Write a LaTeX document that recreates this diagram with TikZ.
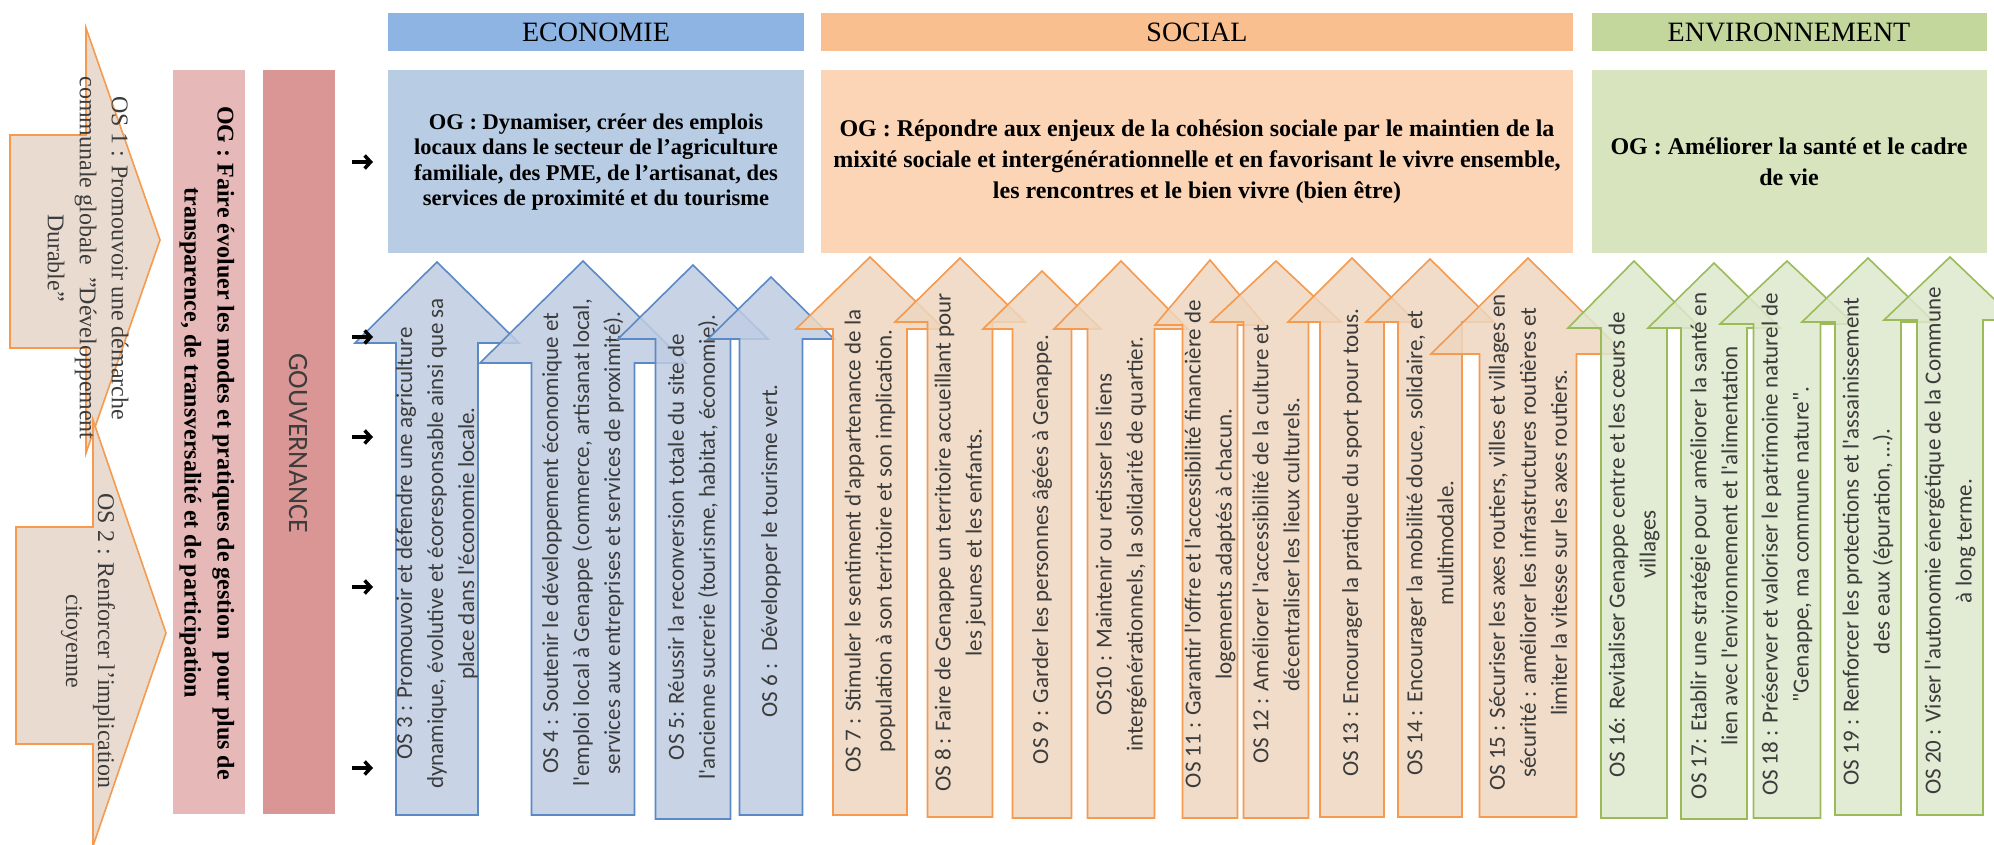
\documentclass[tikz,border=0pt]{standalone}
\usepackage{fontspec}
\setmainfont{Liberation Serif}
\newfontfamily\calfont{Carlito}
\usetikzlibrary{arrows.meta}

\definecolor{ecohead}{HTML}{8DB4E2}
\definecolor{ecobox}{HTML}{B8CCE4}
\definecolor{ecoline}{HTML}{5B89C6}
\definecolor{ecofill}{HTML}{BECCE1}
\definecolor{sochead}{HTML}{FABF8F}
\definecolor{socbox}{HTML}{FBD5B5}
\definecolor{socline}{HTML}{F59A4E}
\definecolor{socfill}{HTML}{EDD6BE}
\definecolor{envhead}{HTML}{C3D69B}
\definecolor{envbox}{HTML}{D7E4BD}
\definecolor{envline}{HTML}{9BBB59}
\definecolor{envfill}{HTML}{DDE7CC}
\definecolor{govbox}{HTML}{E6B9B8}
\definecolor{govhead}{HTML}{D99694}
\definecolor{osfill}{HTML}{E6D5C9}
\definecolor{osgrey}{HTML}{3C3C3C}

\tikzset{
  header/.style={inner sep=0pt, font=\fontsize{28}{30}\selectfont},
  ogtext/.style={align=center, inner sep=0pt, font=\bfseries\fontsize{24}{31}\selectfont},
  ostext/.style={rotate=90, align=center, inner sep=0pt, text=osgrey,
    font=\calfont\fontsize{23}{31}\selectfont},
  osarrow/.style={line width=1.6pt, fill opacity=.85},
  pointer/.style={line width=3.5pt, -{Straight Barb[length=6pt,width=13pt]}}
}

\begin{document}
\begin{tikzpicture}[x=1pt,y=-1pt]

      \useasboundingbox (0,0) rectangle (1994,845);
      \clip (0,0) rectangle (1994,845);

      % os 1 and os 2
      \draw[osarrow, draw=socline, fill=osfill] (10,135) -- (86,135) -- (86,28)
        -- (160,240) -- (86,453) -- (86,348) -- (10,348) -- cycle;
      \draw[osarrow, draw=socline, fill=osfill] (16,527) -- (93,527) -- (93,420)
        -- (166,633) -- (93,846) -- (93,744) -- (16,744) -- cycle;
      \node[rotate=-90, align=center, text=osgrey, font=\fontsize{24}{32}\selectfont]
        (os1) at (88,258) {OS 1 : Promouvoir une démarche\\communale globale \ "Développement\\Durable"};
      \node[rotate=-90, align=center, text=osgrey, font=\fontsize{24}{32}\selectfont]
        (os2) at (88,641) {OS 2 : Renforcer l'implication\\citoyenne};

      % gouvernance
      \fill[govbox] (173,70) rectangle (245,814);
      \fill[govhead] (263,70) rectangle (335,814);
      \node[ogtext, rotate=-90, font=\bfseries\fontsize{24}{33}\selectfont] (oggov) at (207,443)
        {OG : Faire évoluer les modes et pratiques de gestion \ pour plus de\\transparence, de transversalité et de participation};
      \node[rotate=-90, inner sep=0pt, text=osgrey, font=\calfont\fontsize{28}{30}\selectfont] (gov) at (298,443) {GOUVERNANCE};

      % headers
      \fill[ecohead] (388,13) rectangle (804,51);
      \fill[sochead] (821,13) rectangle (1573,51);
      \fill[envhead] (1592,13) rectangle (1987,51);
      \node[header] (eco) at (596,32) {ECONOMIE};
      \node[header] (soc) at (1197,32) {SOCIAL};
      \node[header] (env) at (1789,32) {ENVIRONNEMENT};

      % objectifs generaux
      \fill[ecobox] (388,70) rectangle (804,253);
      \fill[socbox] (821,70) rectangle (1573,253);
      \fill[envbox] (1592,70) rectangle (1987,253);
      \node[ogtext, font=\bfseries\fontsize{22.5}{25.5}\selectfont] (ogeco) at (596,162)
        {OG : Dynamiser, créer des emplois\\locaux dans le secteur de l'agriculture\\familiale, des PME, de l'artisanat, des\\services de proximité et du tourisme};
      \node[ogtext] (ogsoc) at (1197,162)
        {OG : Répondre aux enjeux de la cohésion sociale par le maintien de la\\mixité sociale et intergénérationnelle et en favorisant le vivre ensemble,\\les rencontres et le bien vivre (bien être)};
      \node[ogtext] (ogenv) at (1789,162)
        {OG : Améliorer la santé et le cadre\\de vie};

      % economie
      \foreach \n/\px/\bw/\ty/\hy/\by/\txt in {
        3/437/82/262/343/815/{OS 3 : Promouvoir et défendre une agriculture\\dynamique, évolutive et écoresponsable ainsi que sa\\place dans l'économie locale.},
        4/583/103/261/363/815/{OS 4 : Soutenir le développement économique et\\l'emploi local à Genappe (commerce, artisanat local,\\services aux entreprises et services de proximité).},
        5/693/75/265/339/819/{OS 5: Réussir la reconversion totale du site de\\l'ancienne sucrerie (tourisme, habitat, économie).},
        6/771/63/277/339/815/{OS 6 : \ Développer le tourisme vert.}}
      { \draw[osarrow, draw=ecoline, fill=ecofill]
          (\px-\bw/2,\by) -- (\px-\bw/2,\hy) -- (\px-\bw,\hy) -- (\px,\ty)
          -- (\px+\bw,\hy) -- (\px+\bw/2,\hy) -- (\px+\bw/2,\by) -- cycle;
        \node[ostext] (os\n) at (\px,{(\ty+\by)/2+5}) {\txt}; }

      % social
      \foreach \n/\px/\bw/\ty/\hy/\by/\txt in {
        7/870/74/257/329/815/{OS 7 : Stimuler le sentiment d'appartenance de la\\population à son territoire et son implication.},
        8/960/65/258/322/817/{OS 8 : Faire de Genappe un territoire accueillant pour\\les jeunes et les enfants.},
        9/1042/59/271/329/818/{OS 9 : Garder les personnes âgées à Genappe.},
        10/1121/67/261/329/818/{OS10 : Maintenir ou retisser les liens\\intergénérationnels, la solidarité de quartier.},
        11/1210/55/260/325/818/{OS 11 : Garantir l'offre et l'accessibilité financière de\\logements adaptés à chacun.},
        12/1276/65/261/322/818/{OS 12 : Améliorer l'accessibilité de la culture et\\décentraliser les lieux culturels.},
        13/1352/64/258/322/817/{OS 13 : Encourager la pratique du sport pour tous.},
        14/1430/64/259/322/817/{OS 14 : Encourager la mobilité douce, solidaire, et\\multimodale.},
        15/1528/97/258/354/817/{OS 15 : Sécuriser les axes routiers, villes et villages en\\sécurité : améliorer les infrastructures routières et\\limiter la vitesse sur les axes routiers.}}
      { \draw[osarrow, draw=socline, fill=socfill]
          (\px-\bw/2,\by) -- (\px-\bw/2,\hy) -- (\px-\bw,\hy) -- (\px,\ty)
          -- (\px+\bw,\hy) -- (\px+\bw/2,\hy) -- (\px+\bw/2,\by) -- cycle;
        \node[ostext] (os\n) at (\px,{(\ty+\by)/2+5}) {\txt}; }

      % environnement
      \foreach \n/\px/\bw/\ty/\hy/\by/\txt in {
        16/1634/66/261/328/818/{OS 16: Revitaliser Genappe centre et les cœurs de\\villages},
        17/1714/66/263/328/819/{OS 17: Etablir une stratégie pour améliorer la santé en\\lien avec l'environnement et l'alimentation},
        18/1787/67/261/324/818/{OS 18 : Préserver et valoriser le patrimoine naturel de\\"Genappe, ma commune nature".},
        19/1868/66/258/322/815/{OS 19 : Renforcer les protections et l'assainissement\\des eaux (épuration, …).},
        20/1950/66/257/320/815/{OS 20 : Viser l'autonomie énergétique de la Commune\\à long terme.}}
      { \draw[osarrow, draw=envline, fill=envfill]
          (\px-\bw/2,\by) -- (\px-\bw/2,\hy) -- (\px-\bw,\hy) -- (\px,\ty)
          -- (\px+\bw,\hy) -- (\px+\bw/2,\hy) -- (\px+\bw/2,\by) -- cycle;
        \node[ostext] (os\n) at (\px,{(\ty+\by)/2+5}) {\txt}; }

      % pointers
      \foreach \j/\y in {1/162,2/337,3/437,4/587,5/768}
      { \path (352,\y) coordinate (p\j); \path (373,\y) coordinate (q\j);
        \draw[pointer] (p\j) -- (q\j); }

\end{tikzpicture}
\end{document}
